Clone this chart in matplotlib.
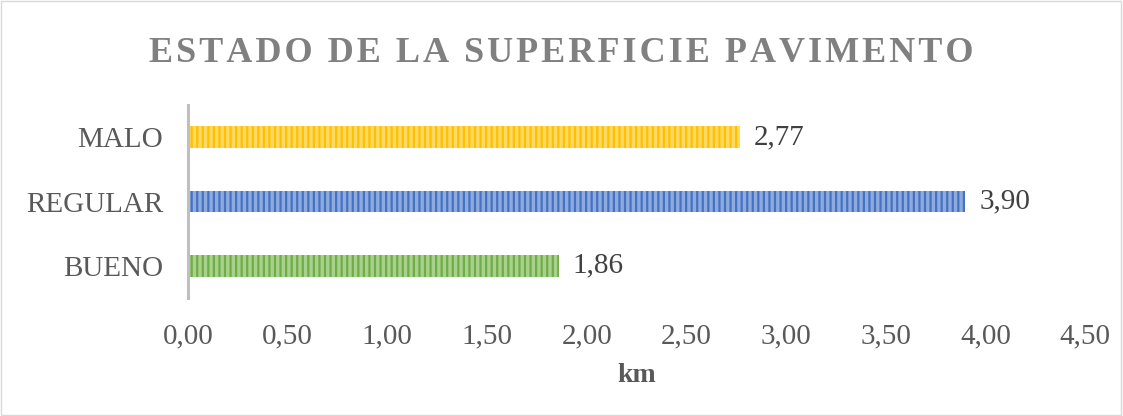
import matplotlib
matplotlib.use("Agg")
import matplotlib.pyplot as plt
from matplotlib.patches import Rectangle

categories = ["BUENO", "REGULAR", "MALO"]
values = [1.86, 3.90, 2.77]
value_labels = ["1,86", "3,90", "2,77"]
xticks = [0.0, 0.5, 1.0, 1.5, 2.0, 2.5, 3.0, 3.5, 4.0, 4.5]
xtick_labels = ["0,00", "0,50", "1,00", "1,50", "2,00", "2,50", "3,00", "3,50", "4,00", "4,50"]
title = "ESTADO DE LA SUPERFICIE PAVIMENTO"

face = ["#a9d18e", "#8faadc", "#ffd966"]
hatch_col = ["#70ad47", "#4472c4", "#ffc000"]

plt.rcParams["font.family"] = ["Liberation Serif", "DejaVu Serif"]
plt.rcParams["hatch.linewidth"] = 1.6

fig = plt.figure(figsize=(11.23, 4.16), dpi=100)
ax = fig.add_axes([188 / 1123, 1 - 298 / 416, (1085 - 188) / 1123, (298 - 105) / 416])

ys = range(len(categories))
for y, v, fc, hc in zip(ys, values, face, hatch_col):
    ax.barh(y, v, height=0.34, color=fc, edgecolor=hc, hatch="|||", linewidth=0)
for y, v, lab in zip(ys, values, value_labels):
    ax.text(v + 0.07, y, lab, va="center", ha="left", fontsize=21, color="#404040")

ax.set_xlim(0, 4.5)
ax.set_ylim(-0.5, 2.5)
ax.set_xticks(xticks)
ax.set_xticklabels(xtick_labels, fontsize=21, color="#595959")
ax.set_yticks(list(ys))
ax.set_yticklabels(categories, fontsize=21, color="#595959")
ax.tick_params(axis="both", length=0)
ax.tick_params(axis="x", pad=18)
ax.tick_params(axis="y", pad=18)
for s in ["top", "right", "bottom"]:
    ax.spines[s].set_visible(False)
ax.spines["left"].set_color("#bfbfbf")
ax.spines["left"].set_linewidth(2.2)

ax.set_xlabel("km", fontsize=20, fontweight="bold", color="#595959", labelpad=10)

fig.text(0.5, 1 - 53 / 416, "\u200a".join(title),
         ha="center", va="center", fontsize=26, fontweight="bold", color="#808080")

fig.patches.append(Rectangle((0.001, 0.002), 0.997, 0.995, transform=fig.transFigure,
                             fill=False, edgecolor="#d9d9d9", linewidth=1))

fig.savefig("out.png", dpi=100)
